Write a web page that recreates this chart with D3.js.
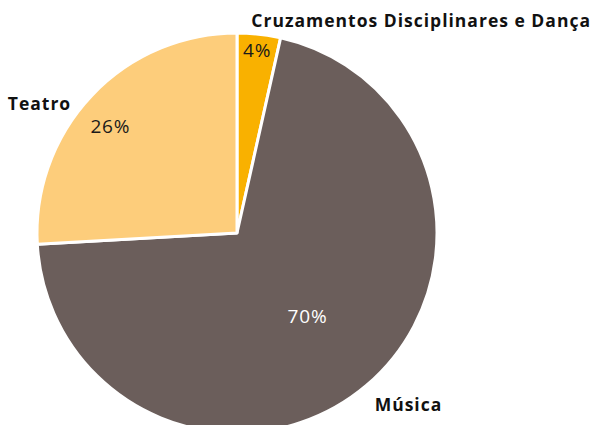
<!DOCTYPE html>
<html>
<head>
<meta charset="utf-8">
<script src="https://cdn.jsdelivr.net/npm/d3@7"></script>
<style>
  body { margin: 0; background: #fff; }
  text { font-family: "Open Sans", sans-serif; }
</style>
</head>
<body>
<script>
var categories = ['Cruzamentos Disciplinares e Dança', 'Música', 'Teatro'];
var values = [3.5, 70.6, 25.9];
var pctLabels = ['4%', '70%', '26%'];
var colors = ['#F9B100', '#6B5E5B', '#FDCD7B'];

var width = 596, height = 425;
var cx = 237, cy = 233, radius = 200;

var svg = d3.select('body')
  .append('svg')
  .attr('width', width)
  .attr('height', height)

var chart = svg.append('g')
  .attr('transform', `translate(${cx},${cy})`)

var data = categories.map((c, i) => ({name: c, value: values[i], label: pctLabels[i], color: colors[i]}))

var pie = d3.pie()
  .sort(null)
  .value(d => d.value)

var arc = d3.arc()
  .innerRadius(0)
  .outerRadius(radius)

var arcs = pie(data)

chart.selectAll('path')
  .data(arcs)
  .enter()
    .append('path')
    .attr('d', arc)
    .attr('fill', d => d.data.color)
    .attr('stroke', '#fff')
    .attr('stroke-width', 3)
    .attr('stroke-linejoin', 'round')

function mid(d) { return (d.startAngle + d.endAngle) / 2 }

// percent labels inside the slices (distance from centre differs per slice)
var innerR = [184, 109, 166];
var pctNudge = [[0, 0], [0, 0], [-6, 7]];
var pctColor = ['#1a1a1a', '#ffffff', '#1a1a1a'];
chart.selectAll('.pct')
  .data(arcs)
  .enter()
    .append('text')
    .attr('class', 'pct')
    .attr('transform', (d, i) => `translate(${innerR[i] * Math.sin(mid(d)) + pctNudge[i][0]},${-innerR[i] * Math.cos(mid(d)) + pctNudge[i][1]})`)
    .attr('text-anchor', 'middle')
    .attr('dy', '0.36em')
    .attr('font-size', '19px')
    .attr('letter-spacing', '0.8px')
    .attr('fill', (d, i) => pctColor[i])
    .text(d => d.data.label)

// category names outside the pie
var outerR = [213, 222, 213];
var nudge = [[-9, -1], [-6, 2], [-11, 17]];
chart.selectAll('.name')
  .data(arcs)
  .enter()
    .append('text')
    .attr('class', 'name')
    .attr('transform', (d, i) => `translate(${outerR[i] * Math.sin(mid(d)) + nudge[i][0]},${-outerR[i] * Math.cos(mid(d)) + nudge[i][1]})`)
    .attr('text-anchor', d => (mid(d) > Math.PI ? 'end' : 'start'))
    .attr('dy', '0.36em')
    .attr('font-size', '17.5px')
    .attr('font-weight', 'bold')
    .attr('letter-spacing', '1px')
    .attr('fill', '#111')
    .text(d => d.data.name)
</script>
</body>
</html>
